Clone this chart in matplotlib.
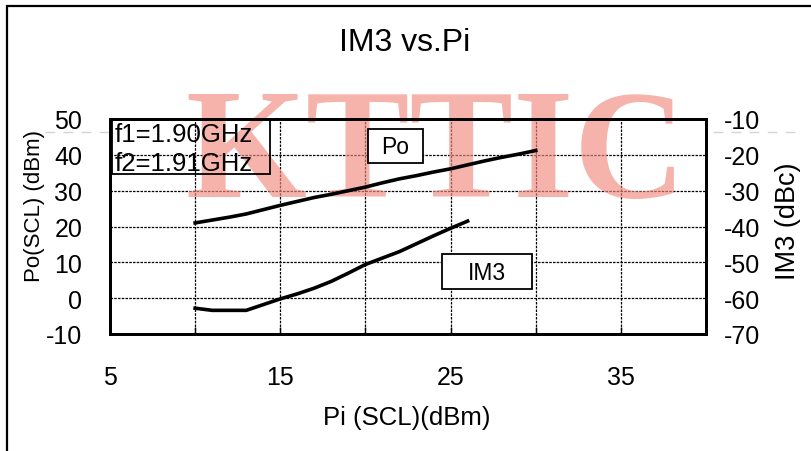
import matplotlib
matplotlib.use("Agg")
import matplotlib.pyplot as plt
from matplotlib.lines import Line2D
from matplotlib.patches import Rectangle

plt.rcParams["font.family"] = ["Liberation Sans", "DejaVu Sans"]
plt.rcParams["axes.unicode_minus"] = False

# Po curve (left axis) and IM3 curve (right axis)
pi_po = [10, 11, 12, 13, 14, 15, 16, 17, 18, 19, 20, 21, 22, 23, 24, 25, 26, 27, 28, 29, 30]
po = [21.0, 21.8, 22.6, 23.5, 24.7, 25.9, 27.0, 28.1, 29.0, 30.0, 31.0,
      32.2, 33.3, 34.2, 35.2, 36.1, 37.2, 38.3, 39.3, 40.2, 41.2]
pi_im3 = [10, 11, 12, 13, 14, 15, 16, 17, 18, 19, 20, 21, 22, 23, 24, 25, 26]
im3 = [-62.8, -63.4, -63.4, -63.4, -61.8, -60.2, -58.8, -57.2, -55.3,
       -53.0, -50.6, -48.8, -47.0, -44.8, -42.6, -40.5, -38.5]

x_ticks = [5, 10, 15, 20, 25, 30, 35, 40]
x_labels = ["5", "", "15", "", "25", "", "35", ""]
left_ticks = [-10, 0, 10, 20, 30, 40, 50]
right_ticks = [-70, -60, -50, -40, -30, -20, -10]

W, H = 812, 452
fig = plt.figure(figsize=(W / 100, H / 100), dpi=100)
ax = fig.add_axes([110 / W, 1 - 335 / H, 596 / W, 215 / H])
ax2 = ax.twinx()

# light dashed line running across the whole picture
fig.add_artist(Line2D([45 / W, 800 / W], [1 - 133 / H, 1 - 133 / H],
                      color="#d4d4d4", lw=1.0, dashes=(7, 6), zorder=-5))
# outer frame (cut off on the right and bottom)
fig.add_artist(Rectangle((7 / W, -0.1), 2, 1.1 - 7 / H, fill=False,
                         ec="black", lw=1.6, zorder=-4))

ax.set_xlim(5, 40)
ax.set_ylim(-10, 50)
ax2.set_ylim(-70, -10)
ax.set_xticks(x_ticks)
ax.set_xticklabels(x_labels)
ax.set_yticks(left_ticks)
ax2.set_yticks(right_ticks)

ax.grid(True, color="black", lw=0.9, linestyle=(0, (2, 1)))
ax.set_axisbelow(True)
ax.tick_params(axis="x", direction="in", length=5, width=1, pad=22, labelsize=18)
ax.tick_params(axis="y", length=0, pad=20, labelsize=18)
ax2.tick_params(axis="y", length=0, pad=13, labelsize=18)
for a in (ax, ax2):
    for s in a.spines.values():
        s.set_linewidth(2.0)

# watermark
ax.text(436 / W, 1 - 159 / H, "KTTIC", transform=fig.transFigure, ha="center", va="center",
        fontsize=112, fontweight="bold", family="Liberation Serif",
        color="#f08a7e", alpha=0.65, zorder=1.5, clip_on=False)

ax.plot(pi_po, po, color="black", lw=2.6, zorder=3)
ax2.plot(pi_im3, im3, color="black", lw=2.6, zorder=3)


def box(x0, y0, x1, y1, fc="none"):
    fig.add_artist(Rectangle((x0 / W, 1 - y1 / H), (x1 - x0) / W, (y1 - y0) / H,
                             fc=fc, ec="black", lw=1.3, zorder=4))


box(112, 120, 270, 175)
fig.text(115 / W, 1 - 135 / H, "f1=1.90GHz", fontsize=18.5, ha="left", va="center", zorder=5)
fig.text(115 / W, 1 - 164 / H, "f2=1.91GHz", fontsize=18.5, ha="left", va="center", zorder=5)

box(368, 130, 423, 164, fc="white")
fig.text(395.5 / W, 1 - 148 / H, "Po", fontsize=16.5, ha="center", va="center", zorder=5)
box(442, 255, 532, 290, fc="white")
fig.text(487 / W, 1 - 273 / H, "IM3", fontsize=16.5, ha="center", va="center", zorder=5)

fig.text(405 / W, 1 - 43 / H, "IM3 vs.Pi", fontsize=23, ha="center", va="center")
fig.text(407 / W, 1 - 418 / H, "Pi (SCL)(dBm)", fontsize=18.5, ha="center", va="center")
fig.text(35 / W, 1 - 206 / H, "Po(SCL) (dBm)", fontsize=16, ha="center", va="center",
         rotation=90)
fig.text(788 / W, 1 - 221 / H, "IM3 (dBc)", fontsize=19.5, ha="center", va="center",
         rotation=90)

fig.savefig("out.png", dpi=100)
